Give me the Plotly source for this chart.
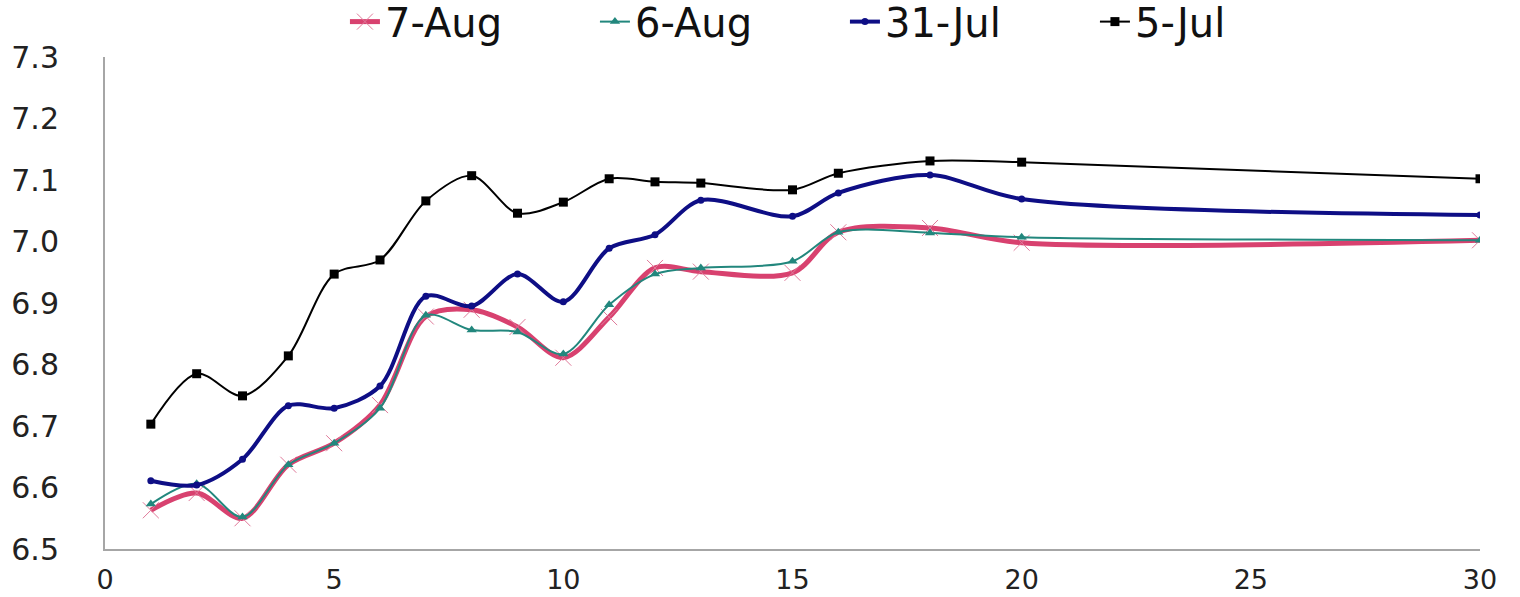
import plotly.graph_objects as go

# Sampling days
days = [1, 2, 3, 4, 5, 6, 7, 8, 9, 10, 11, 12, 13, 15, 16, 18, 20, 30]

aug7 = [6.563, 6.591, 6.550, 6.637, 6.672, 6.734, 6.878, 6.889, 6.861, 6.811,
        6.877, 6.957, 6.951, 6.949, 7.015, 7.022, 6.998, 7.002]
aug6 = [6.573, 6.606, 6.552, 6.637, 6.672, 6.729, 6.880, 6.856, 6.853, 6.817,
        6.897, 6.947, 6.957, 6.968, 7.015, 7.014, 7.007, 7.002]
jul31 = [6.611, 6.604, 6.646, 6.733, 6.729, 6.765, 6.911, 6.895, 6.947, 6.902,
         6.989, 7.011, 7.067, 7.041, 7.079, 7.108, 7.069, 7.043]
jul5 = [6.703, 6.785, 6.749, 6.814, 6.947, 6.970, 7.066, 7.107, 7.046, 7.064,
        7.102, 7.097, 7.095, 7.084, 7.111, 7.131, 7.129, 7.102]

x_ticks = [0, 5, 10, 15, 20, 25, 30]
y_ticks = [6.5, 6.6, 6.7, 6.8, 6.9, 7.0, 7.1, 7.2, 7.3]

FONT = "DejaVu Sans, Arial, sans-serif"

fig = go.Figure()

fig.add_trace(go.Scatter(
    x=days, y=aug7, name="7-Aug", mode="lines+markers",
    line=dict(color="#D8416F", width=5, shape="spline", smoothing=0.9),
    marker=dict(symbol="x-thin", size=16, color="#D8416F",
                line=dict(color="#E07A9A", width=1)),
))
fig.add_trace(go.Scatter(
    x=days, y=aug6, name="6-Aug", mode="lines+markers",
    line=dict(color="#22877D", width=2, shape="spline", smoothing=0.9),
    marker=dict(symbol="triangle-up", size=9, color="#22877D"),
))
fig.add_trace(go.Scatter(
    x=days, y=jul31, name="31-Jul", mode="lines+markers",
    line=dict(color="#0E0E85", width=4, shape="spline", smoothing=0.9),
    marker=dict(symbol="circle", size=7, color="#0E0E85"),
))
fig.add_trace(go.Scatter(
    x=days, y=jul5, name="5-Jul", mode="lines+markers",
    line=dict(color="#000000", width=2, shape="spline", smoothing=0.9),
    marker=dict(symbol="square", size=9, color="#000000"),
))

fig.update_layout(
    width=1520, height=597,
    paper_bgcolor="white", plot_bgcolor="white",
    margin=dict(l=105, r=40, t=57, b=48, autoexpand=False),
    font=dict(family=FONT, color="#222222"),
    showlegend=True,
    legend=dict(orientation="h", x=0.1745, xanchor="left",
                y=1.138, yanchor="top",
                font=dict(size=40, family=FONT, color="#111111"),
                itemwidth=30, entrywidth=205, entrywidthmode="pixels",
                traceorder="normal", bgcolor="rgba(0,0,0,0)"),
)

fig.update_xaxes(
    range=[0, 30], tickvals=x_ticks, ticktext=[str(v) for v in x_ticks],
    showgrid=False, zeroline=False, showline=True, linecolor="#A6A6A6", linewidth=2,
    ticks="", tickfont=dict(size=27, family=FONT, color="#222222"),
    ticklabelstandoff=6,
)
fig.update_yaxes(
    range=[6.5, 7.3], tickvals=y_ticks, ticktext=[f"{v:.1f}" for v in y_ticks],
    showgrid=False, zeroline=False, showline=True, linecolor="#A6A6A6", linewidth=2,
    ticks="", tickfont=dict(size=30, family=FONT, color="#222222"),
    ticklabelstandoff=38,
)

fig.write_html("out.html")
